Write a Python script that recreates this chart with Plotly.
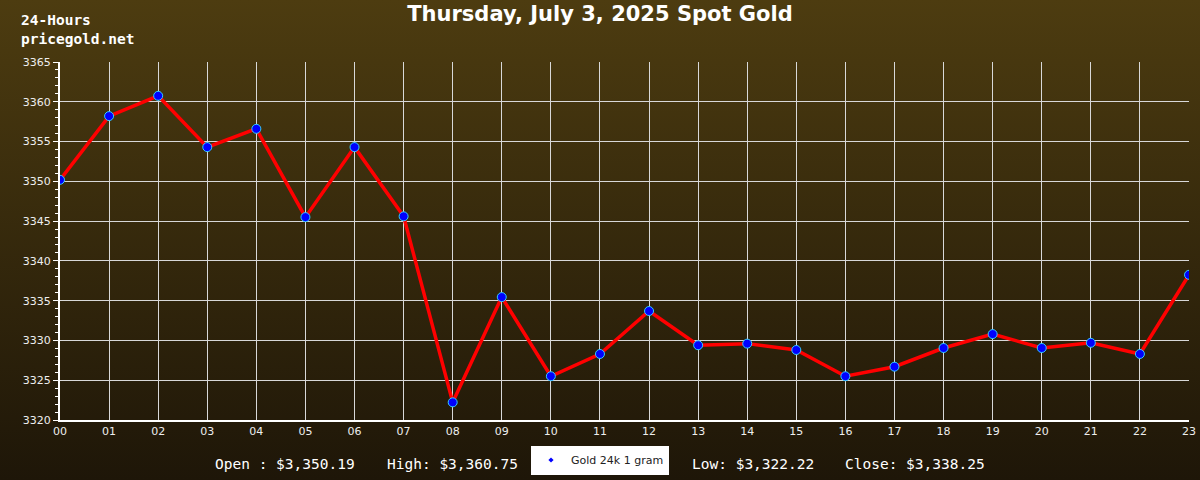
import base64
import plotly.graph_objects as go

hours = ["00", "01", "02", "03", "04", "05", "06", "07", "08", "09", "10", "11",
         "12", "13", "14", "15", "16", "17", "18", "19", "20", "21", "22", "23"]
prices = [3350.19, 3358.2, 3360.75, 3354.3, 3356.6, 3345.5, 3354.3, 3345.6,
          3322.22, 3335.45, 3325.5, 3328.3, 3333.7, 3329.4, 3329.6, 3328.8,
          3325.5, 3326.7, 3329.05, 3330.8, 3329.05, 3329.7, 3328.3, 3338.25]
series_name = "Gold 24k 1 gram"
title = "Thursday, July 3, 2025 Spot Gold"
stats = ["Open : $3,350.19", "High: $3,360.75", "Low: $3,322.22", "Close: $3,338.25"]

W, H = 1200, 480
ML, MR, MT, MB = 60, 11, 62, 60
pw, ph = W - ML - MR, H - MT - MB

svg = ('<svg xmlns="http://www.w3.org/2000/svg" width="1200" height="480" preserveAspectRatio="none">'
       '<defs><linearGradient id="g" x1="0" y1="0" x2="0" y2="1">'
       '<stop offset="0" stop-color="#4d3c10"/><stop offset="1" stop-color="#1e1608"/>'
       '</linearGradient></defs><rect width="1200" height="480" fill="url(#g)"/></svg>')
src = "data:image/svg+xml;base64," + base64.b64encode(svg.encode()).decode()

fig = go.Figure()
fig.add_trace(go.Scatter(
    x=hours, y=prices, mode="lines+markers", showlegend=False,
    line=dict(color="#ff0000", width=3.5),
    marker=dict(color="#0000ff", size=9, line=dict(color="#33ccff", width=1)),
))
fig.add_trace(go.Scatter(
    x=[None], y=[None], mode="markers", name=series_name,
    marker=dict(color="#0000ff", size=4, symbol="diamond"),
))

fig.add_layout_image(dict(
    source=src, xref="paper", yref="paper",
    x=-ML / pw, y=1 + MT / ph, sizex=W / pw, sizey=H / ph,
    sizing="stretch", layer="below", xanchor="left", yanchor="top",
))

mono = "DejaVu Sans Mono"
fig.add_annotation(text="<b>24-Hours</b><br><b>pricegold.net</b>", xref="paper", yref="paper",
                   x=-41 / pw, y=1 + 52 / ph, xanchor="left", yanchor="top", align="left",
                   showarrow=False, font=dict(family=mono, size=14.5, color="white"))

stat_px = [213, 385, 690, 843]
for s, px in zip(stats, stat_px):
    fig.add_annotation(text=s, xref="paper", yref="paper",
                       x=(px - ML) / pw, y=-(464 - MT - ph) / ph, xanchor="left", yanchor="middle",
                       showarrow=False, font=dict(family=mono, size=14.5, color="white"))

fig.update_layout(
    width=W, height=H, autosize=False,
    margin=dict(l=ML, r=MR, t=MT, b=MB, autoexpand=False),
    paper_bgcolor="#1e1608", plot_bgcolor="rgba(0,0,0,0)",
    title=dict(text="<b>" + title + "</b>", x=0.5, xanchor="center", y=1 - 14 / H, yanchor="middle",
               font=dict(family="DejaVu Sans", size=21, color="white")),
    showlegend=True,
    legend=dict(orientation="h", x=(600 - ML) / pw, y=-(460 - MT - ph) / ph,
                xanchor="center", yanchor="middle", bgcolor="white", itemwidth=30,
                font=dict(family="DejaVu Sans", size=11, color="#222222")),
    xaxis=dict(type="category", range=[0, 23], showgrid=True, gridcolor="#d8d8d8", gridwidth=1,
               showline=True, linecolor="white", linewidth=2, ticks="", zeroline=False,
               tickfont=dict(family="DejaVu Sans", size=11, color="#eeeeee")),
    yaxis=dict(range=[3320, 3365], dtick=5, showgrid=True, gridcolor="#d8d8d8", gridwidth=1,
               showline=True, linecolor="white", linewidth=2, ticks="outside", ticklen=5,
               tickcolor="white", zeroline=False,
               minor=dict(dtick=1, ticks="outside", ticklen=3, tickcolor="white", showgrid=False),
               tickfont=dict(family="DejaVu Sans", size=11, color="#eeeeee")),
    font=dict(family="DejaVu Sans", color="white"),
)

fig.write_html("out.html", config={"displayModeBar": False},
               post_script="document.body.style.margin='0px';")
